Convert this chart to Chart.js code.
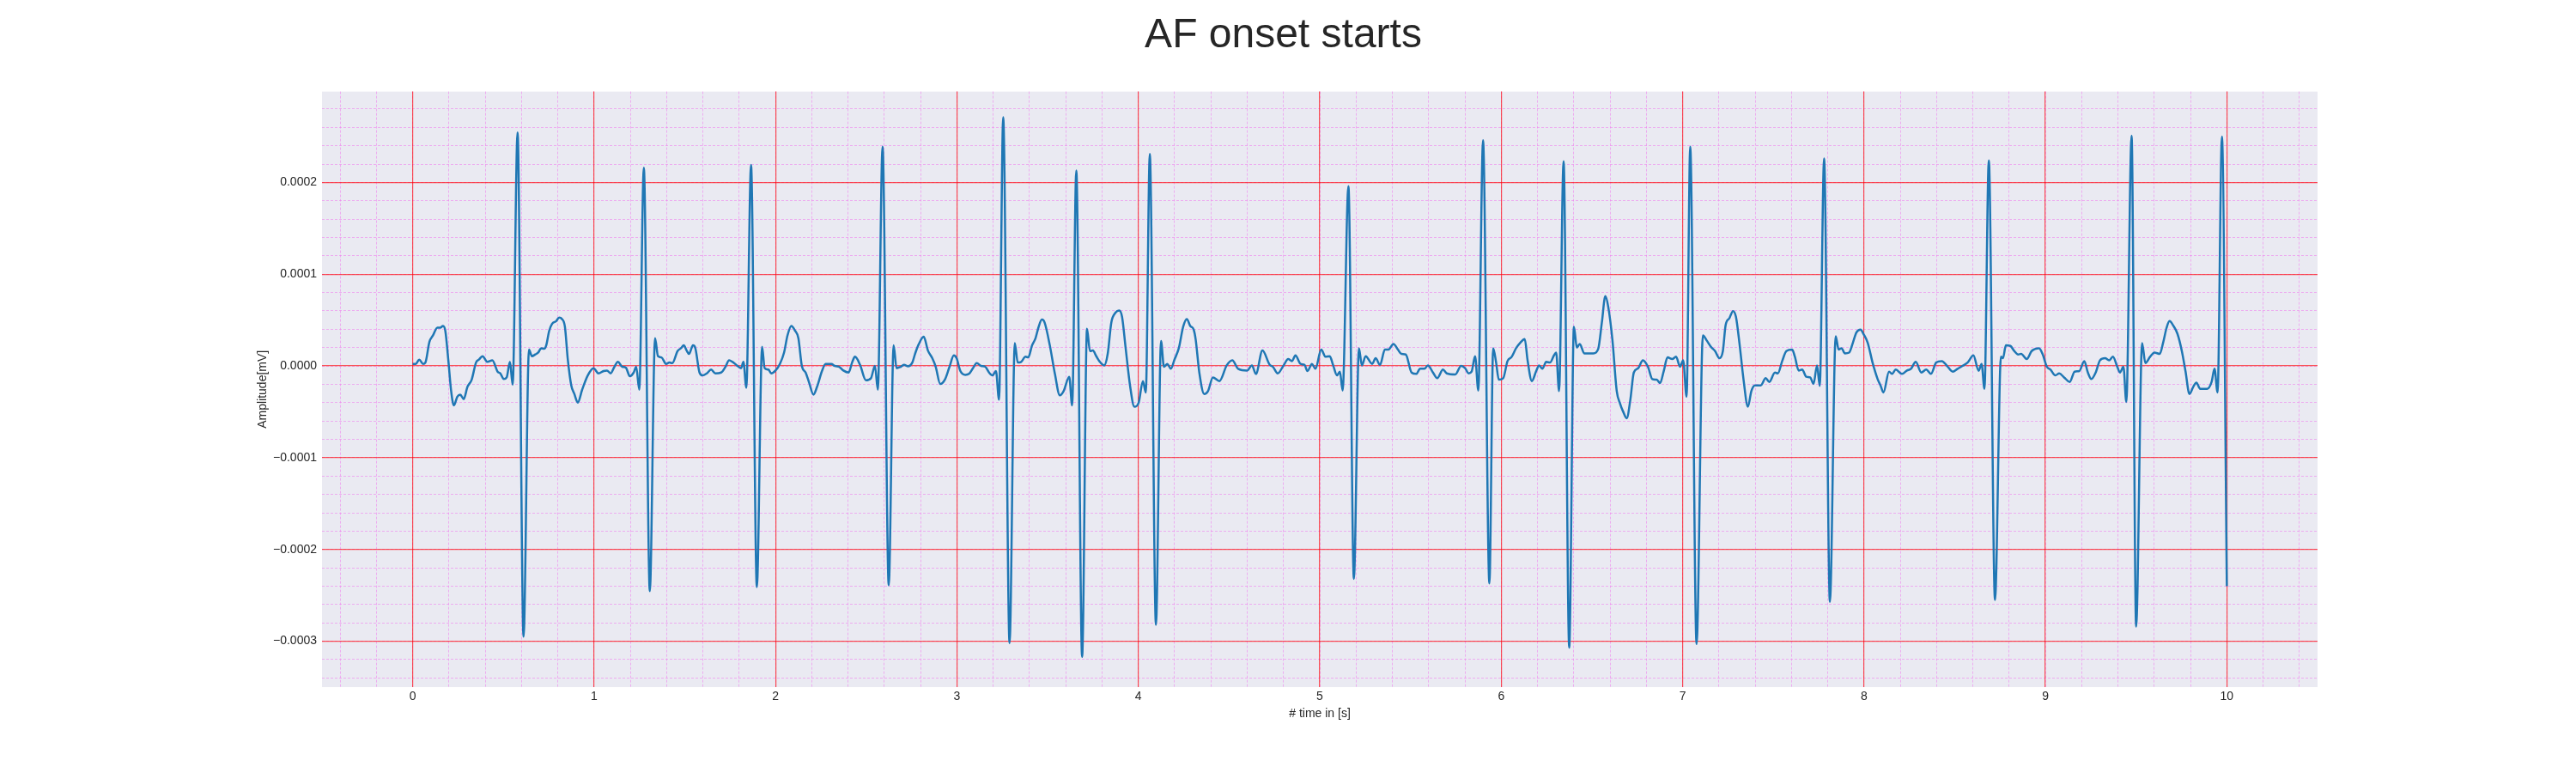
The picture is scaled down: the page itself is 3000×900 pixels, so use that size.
<!DOCTYPE html>
<html>
<head>
<meta charset="utf-8">
<title>AF onset starts</title>
<script src="https://cdn.jsdelivr.net/npm/chart.js@4.4.0/dist/chart.umd.min.js"></script>
<style>
  html, body { margin: 0; padding: 0; background: #ffffff; }
  #wrap { width: 3000px; height: 900px; }
</style>
</head>
<body>
<div id="wrap"><canvas id="ecg" width="3000" height="900"></canvas></div>
<script>
// time axis [s]
const timeS = [
  0.000, 0.017, 0.036, 0.057, 0.070, 0.092, 0.112, 0.136, 0.152, 0.167, 0.180, 0.196, 0.212, 0.227, 0.246, 0.262,
  0.281, 0.302, 0.325, 0.349, 0.365, 0.385, 0.412, 0.439, 0.468, 0.483, 0.502, 0.518, 0.536, 0.551, 0.578, 0.611,
  0.641, 0.657, 0.676, 0.692, 0.708, 0.724, 0.736, 0.752, 0.768, 0.791, 0.807, 0.823, 0.839, 0.855, 0.874, 0.891,
  0.910, 0.934, 0.965, 0.997, 1.024, 1.052, 1.071, 1.091, 1.112, 1.131, 1.155, 1.175, 1.197, 1.218, 1.232, 1.249,
  1.274, 1.307, 1.336, 1.352, 1.371, 1.397, 1.415, 1.431, 1.460, 1.479, 1.494, 1.510, 1.523, 1.545, 1.558, 1.581,
  1.597, 1.621, 1.645, 1.668, 1.700, 1.724, 1.744, 1.763, 1.787, 1.810, 1.823, 1.839, 1.865, 1.897, 1.926, 1.940,
  1.961, 1.976, 2.000, 2.024, 2.047, 2.066, 2.087, 2.107, 2.126, 2.145, 2.166, 2.185, 2.209, 2.229, 2.256, 2.276,
  2.308, 2.327, 2.351, 2.374, 2.403, 2.422, 2.438, 2.466, 2.498, 2.526, 2.548, 2.564, 2.590, 2.624, 2.651, 2.667,
  2.690, 2.709, 2.730, 2.754, 2.769, 2.788, 2.817, 2.840, 2.864, 2.883, 2.908, 2.935, 2.959, 2.983, 2.998, 3.019,
  3.046, 3.066, 3.088, 3.109, 3.133, 3.156, 3.177, 3.196, 3.215, 3.232, 3.255, 3.290, 3.319, 3.335, 3.354, 3.378,
  3.393, 3.414, 3.433, 3.449, 3.468, 3.483, 3.512, 3.540, 3.567, 3.588, 3.619, 3.635, 3.658, 3.690, 3.717, 3.733,
  3.749, 3.768, 3.788, 3.812, 3.831, 3.851, 3.875, 3.894, 3.910, 3.930, 3.954, 3.978, 4.002, 4.025, 4.041, 4.063,
  4.097, 4.125, 4.141, 4.160, 4.179, 4.199, 4.223, 4.247, 4.267, 4.286, 4.305, 4.316, 4.336, 4.363, 4.384, 4.411,
  4.447, 4.487, 4.518, 4.550, 4.600, 4.626, 4.648, 4.684, 4.724, 4.742, 4.768, 4.799, 4.826, 4.847, 4.866, 4.894,
  4.916, 4.932, 4.957, 4.976, 5.008, 5.032, 5.055, 5.074, 5.095, 5.111, 5.126, 5.158, 5.188, 5.216, 5.232, 5.253,
  5.289, 5.308, 5.332, 5.359, 5.379, 5.406, 5.431, 5.450, 5.474, 5.506, 5.532, 5.553, 5.577, 5.596, 5.624, 5.648,
  5.679, 5.700, 5.747, 5.779, 5.801, 5.821, 5.837, 5.856, 5.874, 5.900, 5.935, 5.956, 5.972, 5.987, 6.011, 6.035,
  6.058, 6.082, 6.106, 6.130, 6.145, 6.169, 6.193, 6.209, 6.227, 6.248, 6.269, 6.291, 6.303, 6.319, 6.344, 6.375,
  6.401, 6.417, 6.433, 6.458, 6.493, 6.508, 6.535, 6.555, 6.574, 6.590, 6.613, 6.637, 6.656, 6.671, 6.692, 6.712,
  6.731, 6.755, 6.781, 6.809, 6.833, 6.857, 6.876, 6.896, 6.917, 6.943, 6.964, 6.986, 7.003, 7.022, 7.042, 7.077,
  7.112, 7.132, 7.156, 7.179, 7.203, 7.222, 7.237, 7.258, 7.278, 7.294, 7.313, 7.336, 7.360, 7.379, 7.399, 7.431,
  7.458, 7.478, 7.509, 7.525, 7.549, 7.572, 7.604, 7.619, 7.640, 7.659, 7.682, 7.703, 7.722, 7.741, 7.756, 7.780,
  7.812, 7.844, 7.860, 7.876, 7.895, 7.918, 7.939, 7.958, 7.981, 7.997, 8.020, 8.049, 8.075, 8.091, 8.107, 8.138,
  8.154, 8.175, 8.209, 8.237, 8.259, 8.285, 8.316, 8.343, 8.369, 8.398, 8.429, 8.458, 8.489, 8.516, 8.543, 8.571,
  8.603, 8.632, 8.648, 8.664, 8.688, 8.722, 8.755, 8.766, 8.782, 8.807, 8.826, 8.850, 8.866, 8.897, 8.924, 8.965,
  8.984, 9.008, 9.028, 9.055, 9.076, 9.103, 9.134, 9.161, 9.187, 9.214, 9.234, 9.253, 9.277, 9.301, 9.329, 9.351,
  9.372, 9.396, 9.411, 9.430, 9.446, 9.475, 9.500, 9.533, 9.551, 9.577, 9.601, 9.630, 9.649, 9.668, 9.684, 9.704,
  9.728, 9.752, 9.772, 9.794, 9.815, 9.832, 9.853, 9.892, 9.916, 9.932, 9.949, 9.973, 10.000
];

// amplitude, in units of 1e-5 mV (one value per entry of timeS)
const ampE5 = [
  0.22, 0.22, 0.69, 0.22, 0.37, 2.62, 3.33, 4.17, 4.17, 4.36, 3.80, 0.69, -2.74, -4.30, -3.36, -3.12,
  -3.61, -2.27, -1.50, 0.37, 0.69, 1.06, 0.44, 0.62, -0.62, -0.81, -1.43, -1.25, 0.44, -2.06, 25.45, -29.5,
  1.78, 1.06, 1.25, 1.46, 1.93, 1.87, 2.24, 3.80, 4.58, 4.89, 5.26, 5.11, 4.27, 0.69, -2.12, -3.05,
  -3.99, -2.59, -1.03, -0.25, -0.81, -0.56, -0.50, -0.81, -0.09, 0.44, -0.09, -0.19, -1.12, -0.72, -0.09, -2.59,
  21.6, -24.55, 3.02, 1.06, 0.93, 0.22, 0.37, 0.31, 1.62, 1.93, 2.24, 1.68, 1.31, 2.24, 1.93, -0.72,
  -1.03, -0.81, -0.40, -0.81, -0.72, -0.09, 0.62, 0.44, 0.06, -0.25, 0.44, -2.37, 21.9, -24.1, 2.09, -0.25,
  -0.40, -0.81, -0.50, 0.22, 1.46, 3.33, 4.36, 3.86, 3.02, 0.00, -0.72, -1.81, -3.12, -2.27, -0.56, 0.22,
  0.22, 0.00, -0.09, -0.50, -0.72, 0.37, 1.00, 0.12, -1.56, -1.34, 0.00, -2.59, 23.9, -23.9, 2.24, -0.25,
  -0.09, 0.12, -0.03, 0.37, 1.31, 2.31, 3.18, 1.68, 0.84, -0.09, -1.96, -1.43, -0.09, 1.15, 0.84, -0.56,
  -0.97, -0.87, -0.25, 0.31, 0.00, -0.09, -0.72, -1.03, -0.56, -3.68, 27.1, -30.2, 2.49, 0.37, 0.44, 1.00,
  0.93, 2.24, 3.02, 4.17, 5.05, 4.74, 2.24, -0.87, -3.21, -2.74, -1.18, -4.30, 21.3, -31.7, 4.05, 1.62,
  1.68, 1.06, 0.44, 0.06, 1.31, 4.74, 5.83, 6.04, 5.36, 1.93, -2.12, -4.45, -3.99, -1.65, -2.90, 23.1,
  -28.2, 2.71, -0.09, 0.22, -0.31, 0.69, 1.93, 4.27, 5.11, 4.36, 3.96, 2.87, -0.72, -3.05, -2.74, -1.25,
  -1.65, 0.06, 0.62, -0.31, -0.50, 0.06, -0.87, 1.68, 0.12, -0.09, -0.81, 0.00, 0.75, 0.53, 1.15, 0.22,
  0.12, -0.56, 0.22, -0.31, 1.78, 1.00, 1.06, 0.06, -1.03, -0.62, -2.68, 19.6, -23.2, 1.93, 0.06, 1.06,
  0.22, 0.84, 0.12, 1.78, 1.78, 2.40, 1.78, 1.31, 1.25, -0.72, -0.87, -0.31, -0.31, 0.06, -0.72, -1.34,
  -0.40, -0.81, -0.93, 0.00, -0.25, -0.81, -0.62, 1.06, -2.68, 24.6, -23.7, 1.93, 0.37, -1.50, -1.34, 0.53,
  1.00, 1.93, 2.55, 2.93, 0.69, -1.65, -0.56, 0.06, -0.31, 0.44, 0.37, 1.15, 1.46, -2.74, 22.3, -30.7,
  4.27, 1.99, 2.40, 1.37, 1.37, 1.37, 1.87, 4.74, 7.60, 6.45, 2.87, -2.74, -4.14, -4.92, -5.70, -3.68,
  -0.72, -0.25, 0.62, -0.09, -1.43, -1.50, -1.87, -0.56, 0.93, 0.75, 1.00, -0.09, 0.62, -3.36, 23.9, -30.3,
  3.33, 2.80, 2.09, 1.62, 0.84, 1.62, 4.42, 5.20, 5.98, 5.36, 2.55, -1.50, -4.45, -2.74, -2.12, -2.12,
  -1.34, -1.74, -0.72, -0.81, 0.53, 1.62, 1.78, 1.00, -0.50, -0.40, -1.18, -1.25, -1.96, 0.06, -2.18, 22.6,
  -25.7, 3.24, 1.78, 1.93, 1.37, 1.46, 2.55, 3.64, 3.96, 3.49, 2.55, 0.22, -1.43, -2.12, -2.90, -0.62,
  -0.87, -0.40, -0.87, -0.50, -0.31, 0.44, -0.72, -0.40, -0.87, 0.37, 0.53, 0.00, -0.62, -0.31, 0.00, 0.37,
  1.15, -0.53, 0.22, -2.49, 22.4, -25.5, 1.00, 0.84, 2.24, 2.18, 1.68, 1.25, 1.31, 0.75, 1.62, 1.93,
  1.31, -0.09, -0.40, -1.03, -0.81, -1.25, -1.74, -0.62, -0.56, 0.53, -0.72, -1.43, -0.72, 0.62, 0.84, 0.62,
  1.00, -0.09, -0.72, -0.09, -3.93, 25.1, -28.4, 2.49, 0.31, 1.00, 1.46, 1.31, 2.55, 4.17, 4.89, 4.42,
  3.49, 1.62, -0.56, -3.05, -2.27, -1.81, -2.49, -2.49, -1.74, -0.31, -2.90, 25.0, -24.0
];
const AMP_UNIT = 1e-5;

// labelled ticks
const xTickValues = [0, 1, 2, 3, 4, 5, 6, 7, 8, 9, 10];
const yTickValues = [-0.0003, -0.0002, -0.0001, 0, 0.0001, 0.0002];

const X_MIN = -0.5, X_MAX = 10.5;
const Y_MIN = -0.00035, Y_MAX = 0.000299;

const FONT = '"Liberation Sans", Arial, sans-serif';
const TEXT = '#262626';
const MAJOR = 'rgba(255, 0, 0, 0.65)';
const MINOR = 'rgba(238, 130, 238, 0.6)';

// minor grid positions (0.2 s and 0.00002 mV)
function minorSteps(from, to, step) {
	var out = [];
	for (var i = Math.ceil(from / step); i * step <= to; i++) {
		out.push(+(i * step).toFixed(8));
	}
	return out;
}
const xMinorValues = minorSteps(X_MIN, X_MAX, 0.2);
const yMinorValues = minorSteps(Y_MIN, Y_MAX, 0.00002);

function fixedTicks(values) {
	return function(scale) {
		scale.ticks = values.map(function(v) { return { value: v }; });
	};
}

var points = timeS.map(function(t, i) {
	return { x: t, y: ampE5[i] * AMP_UNIT };
});

// seaborn-like plot background
const plotBackground = {
	id: 'plotBackground',
	beforeDraw: function(chart) {
		var a = chart.chartArea;
		var ctx = chart.ctx;
		ctx.save();
		ctx.fillStyle = '#eaeaf2';
		ctx.fillRect(a.left, a.top, a.right - a.left, a.bottom - a.top);
		ctx.restore();
	}
};

var chart = new Chart(document.getElementById('ecg'), {
	type: 'line',
	data: {
		datasets: [{
			data: points,
			borderColor: '#1f77b4',
			borderWidth: 2.5,
			pointRadius: 0,
			fill: false,
			cubicInterpolationMode: 'monotone'
		}]
	},
	plugins: [plotBackground],
	options: {
		responsive: false,
		devicePixelRatio: 1,
		animation: false,
		layout: { padding: { left: 290, right: 301, top: 0, bottom: 0 } },
		plugins: {
			legend: { display: false },
			tooltip: { enabled: false },
			title: {
				display: true,
				text: 'AF onset starts',
				color: TEXT,
				font: { family: FONT, size: 48, weight: 'normal', lineHeight: 1.2 },
				padding: { top: 13, bottom: 36 }
			}
		},
		scales: {
			xMinor: {
				type: 'linear', position: 'bottom', min: X_MIN, max: X_MAX,
				afterBuildTicks: fixedTicks(xMinorValues),
				afterFit: function(s) { s.height = 0; },
				ticks: { display: false, autoSkip: false },
				grid: { color: MINOR, lineWidth: 1, drawTicks: false, z: -2 },
				border: { display: false, dash: [3, 2] }
			},
			yMinor: {
				type: 'linear', position: 'left', min: Y_MIN, max: Y_MAX,
				afterBuildTicks: fixedTicks(yMinorValues),
				afterFit: function(s) { s.width = 0; },
				ticks: { display: false, autoSkip: false },
				grid: { color: MINOR, lineWidth: 1, drawTicks: false, z: -2 },
				border: { display: false, dash: [3, 2] }
			},
			x: {
				type: 'linear', position: 'bottom', min: X_MIN, max: X_MAX,
				afterBuildTicks: fixedTicks(xTickValues),
				afterFit: function(s) { s.height = 100; },
				ticks: {
					autoSkip: false, maxRotation: 0, padding: 3, color: TEXT,
					font: { family: FONT, size: 14 },
					callback: function(v) { return String(v); }
				},
				grid: { color: MAJOR, lineWidth: 1.2, drawTicks: false, z: -1 },
				border: { display: false },
				title: {
					display: true, text: '# time in [s]', color: TEXT,
					font: { family: FONT, size: 14 },
					padding: { top: 0, bottom: 60 }
				}
			},
			y: {
				type: 'linear', position: 'left', min: Y_MIN, max: Y_MAX,
				afterBuildTicks: fixedTicks(yTickValues),
				afterFit: function(s) { s.width = 85; },
				ticks: {
					autoSkip: false, padding: 6, color: TEXT,
					font: { family: FONT, size: 14 },
					callback: function(v) {
						var n = Math.abs(v) < 1e-12 ? 0 : v;
						return n.toFixed(4).replace('-', '\u2212');
					}
				},
				grid: { color: MAJOR, lineWidth: 1.2, drawTicks: false, z: -1 },
				border: { display: false },
				title: {
					display: true, text: 'Amplitude[mV]', color: TEXT,
					font: { family: FONT, size: 14 },
					padding: { top: 8, bottom: 0 }
				}
			}
		}
	}
});
</script>
</body>
</html>
